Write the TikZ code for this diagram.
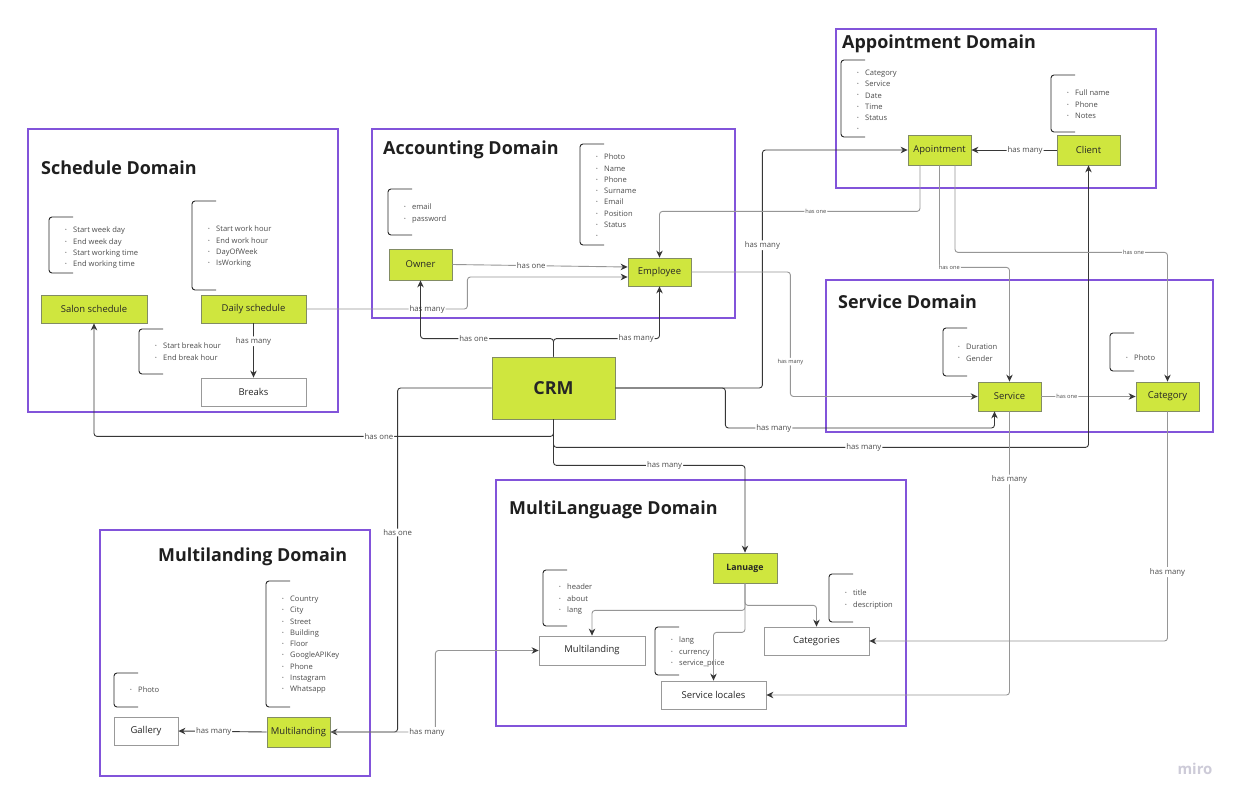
\documentclass[tikz,border=0pt]{standalone}
\usepackage{fontspec}
\setmainfont{Open Sans}
\usetikzlibrary{arrows.meta}

\definecolor{domainpurple}{RGB}{130,84,218}
\definecolor{entitygreen}{RGB}{207,230,62}
\definecolor{entityborder}{RGB}{130,140,100}
\definecolor{linkdark}{RGB}{55,55,55}
\definecolor{linkgray}{RGB}{150,150,150}
\definecolor{itemgray}{RGB}{75,75,75}
\definecolor{logogray}{RGB}{205,203,216}

\tikzset{
  domainframe/.style={draw=domainpurple, line width=1.1bp},
  domaintitle/.style={anchor=west, inner sep=0pt, text=black!88, font=\fontsize{18}{20}\selectfont\bfseries},
  entity/.style={draw=entityborder, fill=entitygreen, line width=0.8bp, inner sep=0pt,
    minimum width=63bp, minimum height=29bp, text=black!85, font=\fontsize{9.5}{11}\selectfont},
  plainentity/.style={entity, fill=white, draw=black!40},
  bracket/.style={draw=black!85, line width=0.9bp, rounded corners=3bp},
  attrs/.style={anchor=north west, align=left, inner sep=0pt, text=itemgray, font=\fontsize{7.6}{11.3}\selectfont},
  link/.style={draw=linkdark, line width=0.9bp, rounded corners=3bp, -{Stealth[length=7bp,width=6.5bp,color=linkdark]}},
  graylink/.style={link, draw=linkgray},
  lbl/.style={fill=white, inner sep=1pt, text=itemgray, font=\fontsize{7.8}{9}\selectfont},
  tinylbl/.style={lbl, font=\fontsize{5.7}{7}\selectfont}
}
\newcommand{\itm}{\makebox[8bp][l]{\raisebox{1.2bp}{\scalebox{0.6}{\textbullet}}}}

\begin{document}
\begin{tikzpicture}[x=1bp, y=-1bp]
    \useasboundingbox[fill=white] (0,0) rectangle (1242,804);

    % Domain frames
    \draw[domainframe] (28,129) rectangle (338,412);
    \node[domaintitle] (schedtitle) at (41,168) {Schedule Domain};
    \draw[domainframe] (372,129) rectangle (735,318);
    \node[domaintitle] (acctitle) at (383,149.5) {Accounting Domain};
    \draw[domainframe] (836,29) rectangle (1156,188);
    \node[domaintitle] (apptitle) at (842,43.5) {Appointment Domain};
    \draw[domainframe] (826,280) rectangle (1213,432);
    \node[domaintitle] (servtitle) at (838,301.5) {Service Domain};
    \draw[domainframe] (496,480) rectangle (906,726);
    \node[domaintitle] (langtitle) at (509,509.5) {MultiLanguage Domain};
    \draw[domainframe] (100,530) rectangle (370,776);
    \node[domaintitle] (landtitle) at (158,556.5) {Multilanding Domain};

    % Entities
    \node[entity, minimum width=106bp, minimum height=28bp] (salon) at (94,309) {Salon schedule};
    \node[entity, minimum width=105bp, minimum height=28bp] (daily) at (253.5,309) {Daily schedule};
    \node[plainentity, minimum width=105bp, minimum height=28bp] (breaks) at (253.5,392) {Breaks};
    \node[entity, minimum height=31bp] (owner) at (420.5,264.5) {Owner};
    \node[entity, minimum height=28bp] (employee) at (659.5,272) {Employee};
    \node[entity, minimum width=123bp, minimum height=62bp, font=\fontsize{18}{20}\selectfont\bfseries] (crm) at (553.5,388) {CRM};
    \node[entity, minimum height=30bp] (apointment) at (939.5,150) {Apointment};
    \node[entity, minimum height=30bp] (client) at (1088.5,150) {Client};
    \node[entity] (service) at (1009.5,396.5) {Service};
    \node[entity] (category) at (1167.5,396.5) {Category};
    \node[entity, minimum width=64bp, minimum height=30bp, font=\fontsize{8.8}{10}\selectfont\bfseries] (lanuage) at (745,568) {Lanuage};
    \node[plainentity, minimum width=106bp] (mlmulti) at (592,650.5) {Multilanding};
    \node[plainentity, minimum width=105bp, minimum height=28bp] (categories) at (816.5,641) {Categories};
    \node[plainentity, minimum width=105bp, minimum height=28bp] (servicelocales) at (713.5,695) {Service locales};
    \node[entity, minimum height=30bp] (multilanding) at (298.5,732) {Multilanding};
    \node[plainentity, minimum width=64bp, minimum height=28bp] (gallery) at (146,731) {Gallery};

    % Attribute lists
    \draw[bracket] (73,217) -| (49,273) -- (73,273);
    \node[attrs] (salonattr) at (65,227) {\itm Start week day\\ \itm End week day\\ \itm Start working time\\ \itm End working time};
    \draw[bracket] (216,201) -| (192,290) -- (216,290);
    \node[attrs] (dailyattr) at (208,226) {\itm Start work hour\\ \itm End work hour\\ \itm DayOfWeek\\ \itm IsWorking};
    \draw[bracket] (163,329) -| (139,374) -- (163,374);
    \node[attrs] (breaksattr) at (155,343) {\itm Start break hour\\ \itm End break hour};
    \draw[bracket] (412,189) -| (388,235) -- (412,235);
    \node[attrs] (ownerattr) at (404,204) {\itm email\\ \itm password};
    \draw[bracket] (604,144) -| (580,245) -- (604,245);
    \node[attrs] (employeeattr) at (596,154) {\itm Photo\\ \itm Name\\ \itm Phone\\ \itm Surname\\ \itm Email\\ \itm Position\\ \itm Status\\ \itm};
    \draw[bracket] (865,60) -| (841,137) -- (865,137);
    \node[attrs] (apointmentattr) at (857,70) {\itm Category\\ \itm Service\\ \itm Date\\ \itm Time\\ \itm Status\\ \itm};
    \draw[bracket] (1075,75) -| (1051,132) -- (1075,132);
    \node[attrs] (clientattr) at (1067,90) {\itm Full name\\ \itm Phone\\ \itm Notes};
    \draw[bracket] (967,328) -| (943,376) -- (967,376);
    \node[attrs] (serviceattr) at (958,344) {\itm Duration\\ \itm Gender};
    \draw[bracket] (1134,333) -| (1110,371) -- (1134,371);
    \node[attrs] (categoryattr) at (1126,355) {\itm Photo};
    \draw[bracket] (567,570) -| (543,626) -- (567,626);
    \node[attrs] (mlmultiattr) at (559,584) {\itm header\\ \itm about\\ \itm lang};
    \draw[bracket] (679,627) -| (655,675) -- (679,675);
    \node[attrs] (localesattr) at (671,637) {\itm lang\\ \itm currency\\ \itm service\_price};
    \draw[bracket] (853,574) -| (829,622) -- (853,622);
    \node[attrs] (categoriesattr) at (845,590) {\itm title\\ \itm description};
    \draw[bracket] (290,581) -| (266,707) -- (290,707);
    \node[attrs] (multilandingattr) at (282,596) {\itm Country\\ \itm City\\ \itm Street\\ \itm Building\\ \itm Floor\\ \itm GoogleAPIKey\\ \itm Phone\\ \itm Instagram\\ \itm Whatsapp};
    \draw[bracket] (138,673) -| (114,707) -- (138,707);
    \node[attrs] (galleryattr) at (130,687) {\itm Photo};

    % Relations inside the domains
    \draw[link] (daily.south) -- node[lbl, pos=0.33] {has many} (breaks.north);
    \draw[graylink] (owner.east) -- node[lbl, pos=0.45] {has one} ([yshift=5bp]employee.west);
    \draw[graylink] (daily.east) -- node[lbl, pos=0.75] {has many} ++(161,0) |- ([yshift=-5bp]employee.west);
    \draw[link] (client.west) -- node[lbl, pos=0.37] {has many} (apointment.east);
    \draw[graylink] (service.east) -- node[tinylbl, pos=0.27] {has one} (category.west);
    \draw[link] (multilanding.west) -- node[lbl, pos=0.6] {has many} (gallery.east);
    \draw[graylink] (lanuage.south) -- ++(0,27) -| (mlmulti.north);
    \draw[graylink] (lanuage.south) -- ++(0,22) -| (categories.north);
    \draw[graylink] (lanuage.south) -- ++(0,49) -| (servicelocales.north);

    % Relations from CRM
    \draw[link] (crm.north) -- ++(0,-18) -| node[lbl, pos=0.3] {has one} (owner.south);
    \draw[link] (crm.north) -- ++(0,-18) -| node[lbl, pos=0.39] {has many} (employee.south);
    \draw[link] (crm.south) -- ++(0,17) -| node[lbl, pos=0.19] {has one} (salon.south);
    \draw[link] (crm.south) -- ++(0,28) -| node[lbl, pos=0.29] {has many} (client.south);
    \draw[link] (crm.south) -- ++(0,46) -| node[lbl, pos=0.29] {has many} (lanuage.north);
    \draw[link] (crm.west) -- ++(-94,0) |- node[lbl, pos=0.21] {has one} (multilanding.east);
    \draw[link] (crm.east) -- ++(147,0) |- node[lbl, pos=0.3] {has many} (apointment.west);
    \draw[link] (crm.east) -| ++(110,40) -| node[lbl, pos=0.09] {has many} ([xshift=-15bp]service.south);

    % Relations across domains
    \draw[graylink] (employee.east) -- ++(99,0) |- node[tinylbl, pos=0.36] {has many} (service.west);
    \draw[graylink] ([xshift=-19.5bp]apointment.south) -- ++(0,46) -| node[tinylbl, pos=0.2] {has one} (employee.north);
    \draw[graylink] (apointment.south) -- ++(0,102) -| node[tinylbl, pos=0.07] {has one} (service.north);
    \draw[graylink] ([xshift=15.5bp]apointment.south) -- ++(0,87) -| node[tinylbl, pos=0.42] {has one} (category.north);
    \draw[graylink] (service.south) |- node[lbl, pos=0.12] {has many} (servicelocales.east);
    \draw[graylink] (category.south) |- node[lbl, pos=0.35] {has many} (categories.east);
    \draw[graylink] (multilanding.east) -- node[lbl, pos=0.92] {has many} ++(105,0) |- (mlmulti.west);

    % Board mark
    \node[text=logogray, font=\fontsize{15}{15}\selectfont\bfseries] (logo) at (1195,769) {miro};
\end{tikzpicture}
\end{document}
